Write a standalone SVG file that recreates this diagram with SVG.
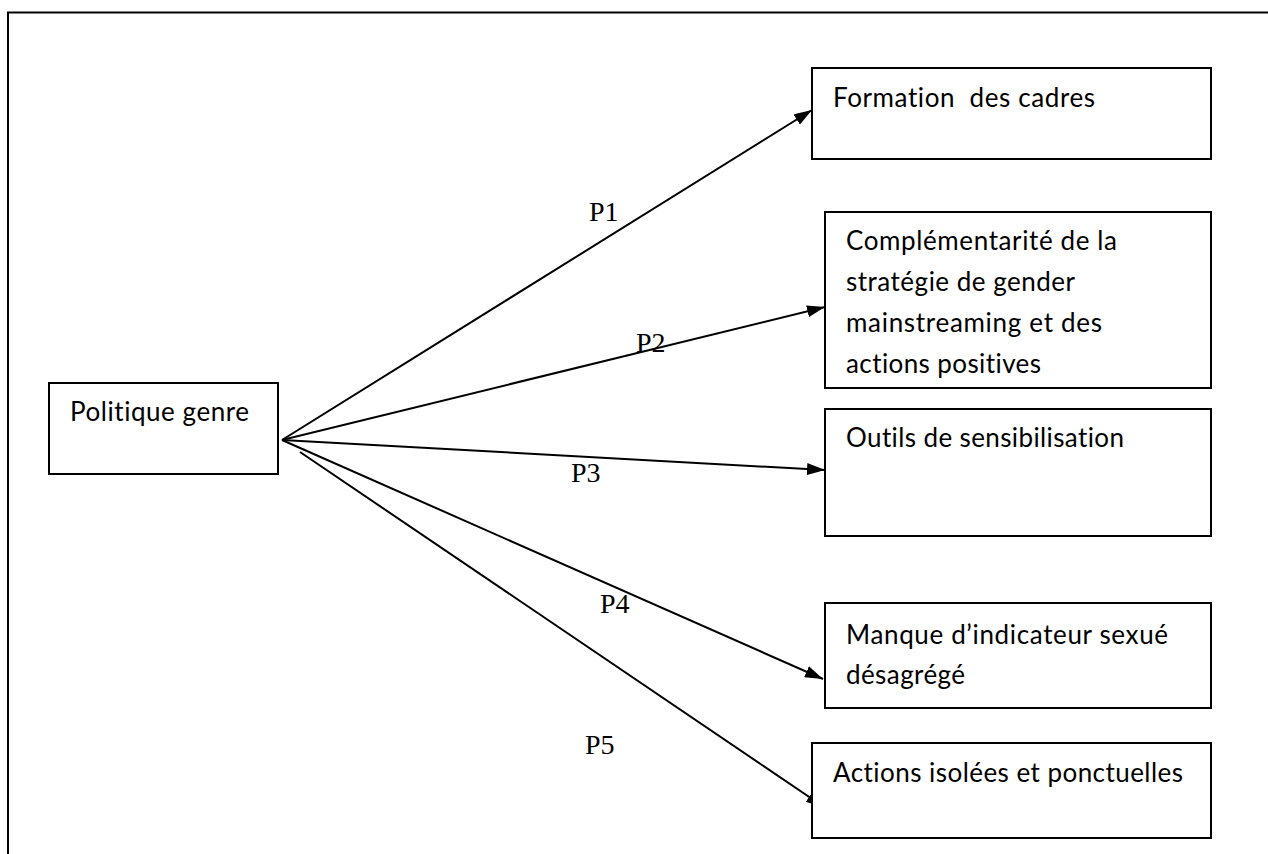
<svg xmlns="http://www.w3.org/2000/svg" width="1268" height="854" viewBox="0 0 1268 854">
<style>
.box{fill:#fff;stroke:#000;stroke-width:2}
.t{font-family:Lato,"Open Sans","Liberation Sans",sans-serif;font-size:26px;fill:#000;font-variant-ligatures:none;font-feature-settings:"liga" 0;white-space:pre}
.p{font-family:"Liberation Serif","Times New Roman",serif;font-size:28px;fill:#000}
.c{stroke:#000;stroke-width:2;fill:none;marker-end:url(#ah)}
</style>
<defs>
<marker id="ah" viewBox="0 0 18 12" markerWidth="18" markerHeight="12" refX="18" refY="6" orient="auto" markerUnits="userSpaceOnUse">
<path d="M0,0 L18,6 L0,12 z" fill="#000"/>
</marker>
</defs>
<rect width="1268" height="854" fill="#fff"/>
<rect x="8" y="12.5" width="1300" height="900" fill="none" stroke="#000" stroke-width="2"/>
<g id="connectors">
<line class="c" x1="282" y1="440" x2="812" y2="110"/>
<line class="c" x1="282" y1="440" x2="825" y2="307"/>
<line class="c" x1="282" y1="440" x2="825" y2="470"/>
<line class="c" x1="282" y1="440" x2="823" y2="679"/>
<line class="c" x1="300" y1="452" x2="824" y2="807"/>
<text class="p" x="589" y="221">P1</text>
<text class="p" x="636" y="352">P2</text>
<text class="p" x="571" y="482">P3</text>
<text class="p" x="600" y="613">P4</text>
<text class="p" x="585" y="754">P5</text>
</g>
<g id="n0">
<rect class="box" x="49" y="383" width="229" height="91"/>
<text class="t" x="70" y="421" textLength="179">Politique genre</text>
</g>
<g id="n1">
<rect class="box" x="812" y="68" width="399" height="91"/>
<text class="t" x="833" y="107" textLength="262" xml:space="preserve">Formation  des cadres</text>
</g>
<g id="n2">
<rect class="box" x="825" y="212" width="386" height="176"/>
<text class="t" x="846" y="250" textLength="271">Complémentarité de la</text>
<text class="t" x="846" y="291" textLength="229">stratégie de gender</text>
<text class="t" x="846" y="332" textLength="256">mainstreaming et des</text>
<text class="t" x="846" y="373" textLength="195">actions positives</text>
</g>
<g id="n3">
<rect class="box" x="825" y="409" width="386" height="127"/>
<text class="t" x="846" y="447" textLength="278">Outils de sensibilisation</text>
</g>
<g id="n4">
<rect class="box" x="825" y="603" width="386" height="105"/>
<text class="t" x="846" y="644" textLength="322">Manque d’indicateur sexué</text>
<text class="t" x="846" y="684" textLength="119">désagrégé</text>
</g>
<g id="n5">
<rect class="box" x="812" y="743" width="399" height="95"/>
<text class="t" x="833" y="782" textLength="350">Actions isolées et ponctuelles</text>
</g>
</svg>
